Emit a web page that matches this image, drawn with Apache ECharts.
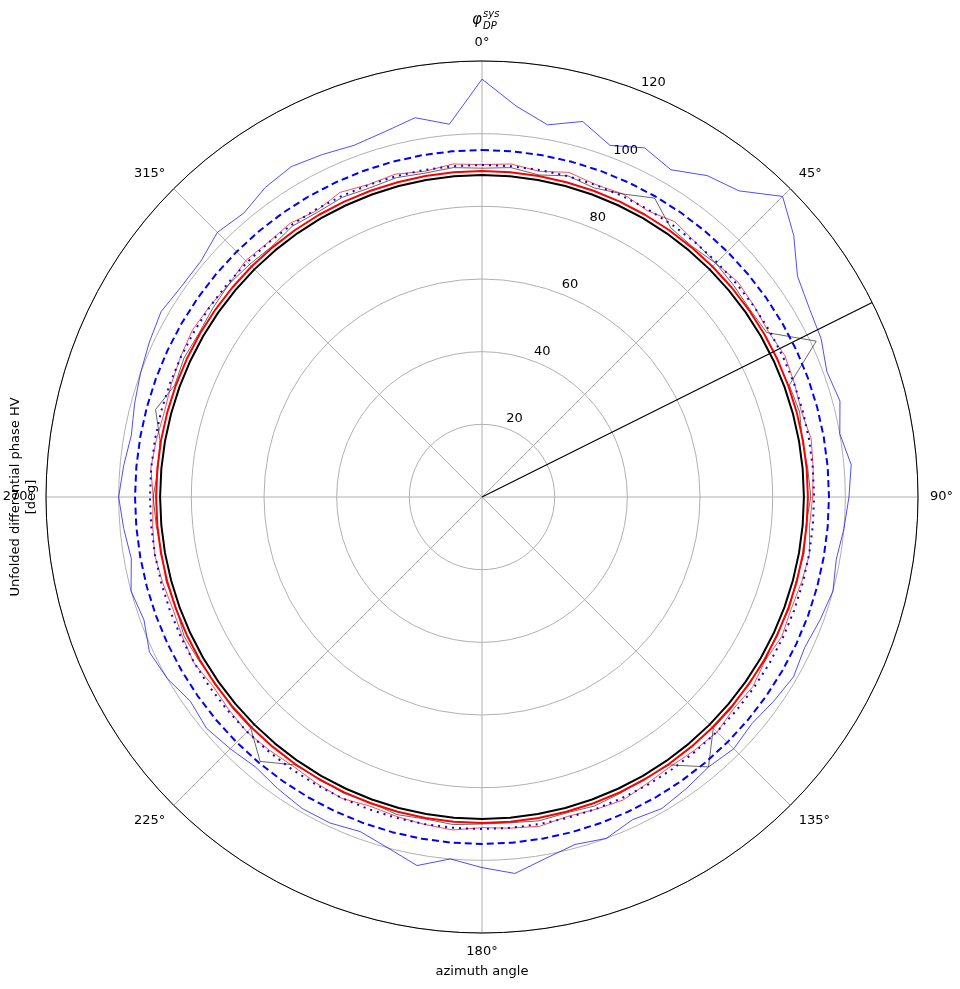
<!DOCTYPE html>
<html><head><meta charset="utf-8">
<script src="https://cdn.jsdelivr.net/npm/echarts@6/dist/echarts.min.js"></script>
<style>body{margin:0}#c{width:960px;height:989px}</style>
</head><body><div id="c"></div>
<script>
var angles = [];
for (var a = 0; a <= 360; a += 5) angles.push(a);
var blueNoisy = [115,108,104,107,103,106,104,108,110,117,112,106,104,103,101,102,100,102,101,100,99,100,99,98,99,98,97,98,97,98,99,98,100,99,101,104,102,100,103,100,98,99,99,98,97,98,99,98,100,101,99,100,98,99,100,99,98,99,100,101,102,101,101,103,102,104,105,104,103,104,106,103,115];
var redNoisy = [91.5,92,91,92.5,91.5,92,91,92.5,91.5,91,92,91.5,91,92,91.5,91,92,91.5,91,90.5,91.5,91,90.5,91,90,91,90.5,91.5,91,90.5,91,92,91.5,91,92,91.5,91,92,91.5,91,90.5,91.5,91,90.5,91,91.5,91,90.5,91.5,91,90.5,91,91.5,91,90.5,91.5,91,90.5,91,91.5,92,91.5,91,92,91.5,92,91,92.5,91.5,92,91,92,91.5];
var blackNoisy = [90.5,91,90,91.5,90.5,92,95,90.5,90,91,90.5,90,90.5,101.5,90,90.5,89.5,90,90.5,89.5,90,89.5,90,89.5,90,89.5,90,90,97,90,89.5,90,90.5,90,90.5,90,90,90.5,90,90.5,89.5,90,89.5,90,95,90,90,89.5,90,90.5,89.5,90,89.5,90,90.5,89.5,90,93,90,90.5,90,90.5,91,90.5,90,91,90.5,91,90.5,91,90.5,91,90.5];
var rBlack = 88.6, rRed = 89.7, rDotted = 91.4, rDashed = 95.5;
var lineAngle = 63.5;
var rTicks = [20, 40, 60, 80, 100, 120];

function pts(vals) { return angles.map(function (a, i) { return [vals[i], a]; }); }
function ring(r) { return angles.map(function (a) { return [r, a]; }); }

var cx = 482, cy = 497, R = 436;
var graphics = rTicks.map(function (t) {
  var rr = t / 120 * R + 12, th = 22.5 * Math.PI / 180;
  return { type: 'text', x: cx + rr * Math.sin(th), y: cy - rr * Math.cos(th),
    style: { text: String(t), font: '13px DejaVu Sans', fill: '#000', align: 'center', verticalAlign: 'middle' } };
});
graphics.push({ type: 'text', x: 482, y: 20, style: { text: 'φ', font: 'italic 15px DejaVu Sans', fill: '#000', align: 'right', verticalAlign: 'middle' } });
graphics.push({ type: 'text', x: 483, y: 14, style: { text: 'sys', font: 'italic 10px DejaVu Sans', fill: '#000', align: 'left', verticalAlign: 'middle' } });
graphics.push({ type: 'text', x: 483, y: 26, style: { text: 'DP', font: 'italic 10px DejaVu Sans', fill: '#000', align: 'left', verticalAlign: 'middle' } });
graphics.push({ type: 'text', x: 482, y: 972, style: { text: 'azimuth angle', font: '13px DejaVu Sans', fill: '#000', align: 'center', verticalAlign: 'middle' } });
graphics.push({ type: 'text', x: 24, y: 497, rotation: Math.PI / 2, style: { text: 'Unfolded differential phase HV\n[deg]', font: '13px DejaVu Sans', lineHeight: 16, fill: '#000', align: 'center', verticalAlign: 'middle' } });

var chart = echarts.init(document.getElementById('c'));
chart.setOption({
  animation: false,
  polar: { center: [cx, cy], radius: R },
  angleAxis: { type: 'value', min: 0, max: 360, interval: 45, startAngle: 90, clockwise: true,
    axisLine: { lineStyle: { color: '#000', width: 1 } }, axisTick: { show: false },
    axisLabel: { formatter: function (v) { return v === 360 ? '' : v + '°'; }, color: '#000', fontSize: 13, fontFamily: 'DejaVu Sans', margin: 12 },
    splitLine: { show: true, lineStyle: { color: '#b0b0b0', width: 1 } } },
  radiusAxis: { type: 'value', min: 0, max: 120, interval: 20, axisLine: { show: false }, axisTick: { show: false },
    axisLabel: { show: false }, splitLine: { show: true, lineStyle: { color: '#b0b0b0', width: 1 } } },
  graphic: graphics,
  series: [
    { type: 'line', coordinateSystem: 'polar', data: pts(blueNoisy), symbol: 'none', lineStyle: { color: '#0000ff', width: 0.7 } },
    { type: 'line', coordinateSystem: 'polar', data: pts(redNoisy), symbol: 'none', lineStyle: { color: '#ff0000', width: 0.7 } },
    { type: 'line', coordinateSystem: 'polar', data: pts(blackNoisy), symbol: 'none', lineStyle: { color: '#000', width: 0.6 } },
    { type: 'line', coordinateSystem: 'polar', data: ring(rBlack), symbol: 'none', lineStyle: { color: '#000', width: 2 } },
    { type: 'line', coordinateSystem: 'polar', data: ring(rRed), symbol: 'none', lineStyle: { color: '#ff0000', width: 2 } },
    { type: 'line', coordinateSystem: 'polar', data: ring(rDotted), symbol: 'none', lineStyle: { color: '#0000ff', width: 2, type: [2, 5] } },
    { type: 'line', coordinateSystem: 'polar', data: ring(rDashed), symbol: 'none', lineStyle: { color: '#0000ff', width: 2, type: [7, 4] } },
    { type: 'line', coordinateSystem: 'polar', data: [[0, lineAngle], [120, lineAngle]], symbol: 'none', lineStyle: { color: '#000', width: 1.2 } }
  ]
});
</script></body></html>
